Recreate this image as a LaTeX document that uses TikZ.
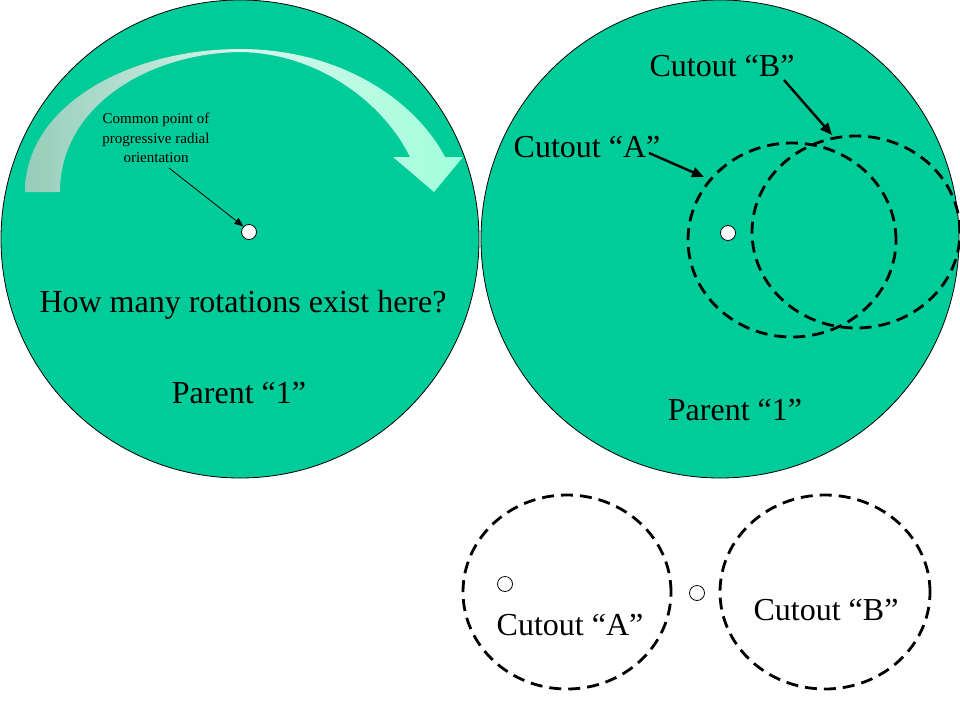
\documentclass[tikz,border=0pt]{standalone}
\usepackage{fontspec}
\setmainfont{Liberation Serif}
\usetikzlibrary{arrows.meta,shapes.geometric}
\definecolor{disc}{RGB}{0,204,153}
\definecolor{arrL}{RGB}{150,205,185}
\definecolor{arrR}{RGB}{160,255,220}
\tikzset{
  parent/.style={draw=black, line width=0.8pt, fill=disc},
  cutout/.style={draw=black, line width=2.8pt, dash pattern=on 12pt off 7pt},
  pin/.style={circle, draw=black, line width=0.8pt, fill=white, minimum size=15pt, inner sep=0pt},
  bigtxt/.style={font=\fontsize{32}{38}\selectfont, inner sep=0pt},
  smalltxt/.style={font=\fontsize{15}{19.5}\selectfont, align=center, inner sep=0pt},
  callout/.style={-{Triangle[length=12pt,width=10pt]}, line width=2.4pt},
  thincall/.style={-{Triangle[length=9pt,width=7pt]}, line width=0.8pt},
}
\begin{document}
\begin{tikzpicture}[x=1pt,y=-1pt]
\useasboundingbox (0,0) rectangle (960,720);
% parent discs
\path[parent] (240,239) circle (239);
\path[parent] (720,239) circle (239);
\node[circle, minimum size=478pt, inner sep=0pt] (P1) at (240,239) {};
\node[circle, minimum size=478pt, inner sep=0pt] (P2) at (720,239) {};
% curved arrow
\shade[left color=arrL, right color=arrR, middle color={rgb,255:red,215;green,245;blue,235}]
  (25,192) .. controls (25,105) and (130,49) .. (240,49)
  .. controls (340,49) and (415,100) .. (445,157)
  -- (463,157) -- (434,192) -- (393,157) -- (410,157)
  .. controls (385,105) and (320,53) .. (240,52)
  .. controls (150,53) and (60,105) .. (60,192) -- cycle;
% left disc contents
\node[pin] (o1) at (249,232) {};
\node[smalltxt] (common) at (156,138) {Common point of\\progressive radial\\orientation};
\coordinate (c1s) at (169,168);
\draw[thincall] (c1s) -- (o1.north west);
\node[bigtxt] (q) at (243,305) {How many rotations exist here?};
\node[bigtxt] (par1) at (239,393) {Parent “1”};
% right disc contents
\node[cutout, ellipse, draw, minimum width=208pt, minimum height=194pt, inner sep=0pt] (eA) at (792,240) {};
\node[cutout, ellipse, draw, minimum width=208pt, minimum height=192pt, inner sep=0pt] (eB) at (856,232) {};
\node[pin] (o2) at (728,233) {};
\node[bigtxt] (labB) at (722,66) {Cutout “B”};
\node[bigtxt] (labA) at (587,147) {Cutout “A”};
\coordinate (aBs) at (784,80);
\coordinate (aBt) at (832,135);
\coordinate (aAs) at (649,153);
\coordinate (aAt) at (704,177);
\draw[callout] (aBs) -- (aBt);
\draw[callout] (aAs) -- (aAt);
\node[bigtxt] (par2) at (735,410) {Parent “1”};
% separated cutouts
\node[cutout, ellipse, draw, minimum width=208pt, minimum height=194pt, inner sep=0pt] (sA) at (567,592) {};
\node[cutout, ellipse, draw, minimum width=210pt, minimum height=194pt, inner sep=0pt] (sB) at (825,592) {};
\node[pin] (o3) at (505,584) {};
\node[pin] (o4) at (697,593) {};
\node[bigtxt] (tA) at (570,625) {Cutout “A”};
\node[bigtxt] (tB) at (826,610) {Cutout “B”};
\end{tikzpicture}
\end{document}
